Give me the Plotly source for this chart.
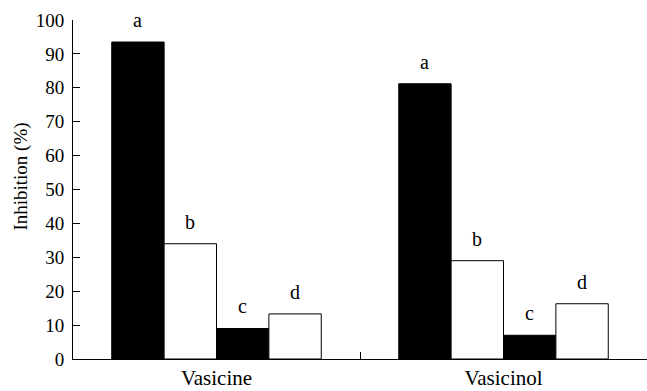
import plotly.graph_objects as go

categories = ["Vasicine", "Vasicinol"]
series_names = ["Series 1", "Series 2", "Series 3", "Series 4"]
series_values = [
    [93.5, 81.2],
    [34.0, 29.0],
    [9.0, 7.0],
    [13.3, 16.3],
]
series_letters = ["a", "b", "c", "d"]
series_fill = ["black", "white", "black", "white"]
y_ticks = list(range(0, 101, 10))

FONT = "'Liberation Serif', 'Times New Roman', Times, serif"
BARGAP = 0.27

fig = go.Figure()
for name, vals, fill in zip(series_names, series_values, series_fill):
    fig.add_trace(go.Bar(
        x=categories, y=vals, name=name,
        marker=dict(color=fill, line=dict(color="black", width=1)),
    ))

n = len(series_values)
bw = (1 - BARGAP) / n
for i, (vals, letter) in enumerate(zip(series_values, series_letters)):
    off = (i - (n - 1) / 2) * bw
    for ci, v in enumerate(vals):
        fig.add_annotation(
            x=ci + off, y=v, xref="x", yref="y", text=letter,
            showarrow=False, yanchor="bottom", yshift=9,
            font=dict(family=FONT, size=20, color="black"),
        )

fig.add_annotation(
    text="Inhibition (%)", xref="paper", yref="paper",
    x=0, xshift=-52, y=0.538, xanchor="center", yanchor="middle",
    textangle=-90, showarrow=False,
    font=dict(family=FONT, size=19, color="black"),
)

fig.update_layout(
    width=647, height=391,
    margin=dict(l=73, r=0, t=20, b=32),
    paper_bgcolor="white", plot_bgcolor="white",
    barmode="group", bargap=BARGAP, bargroupgap=0,
    showlegend=False,
    font=dict(family=FONT, color="black"),
)
fig.update_xaxes(
    type="category", range=[-0.5, 1.5],
    showline=True, linecolor="black", linewidth=1,
    ticks="inside", tickson="boundaries", ticklen=7, tickcolor="black",
    tickfont=dict(family=FONT, size=21, color="black"),
    showgrid=False, zeroline=False,
)
fig.update_yaxes(
    range=[0, 100], tickvals=y_ticks,
    showline=True, linecolor="black", linewidth=1,
    ticks="inside", ticklen=7, tickcolor="black",
    tickfont=dict(family=FONT, size=19, color="black"),
    ticklabelstandoff=4,
    showgrid=False, zeroline=False,
)

fig.write_html("out.html")
